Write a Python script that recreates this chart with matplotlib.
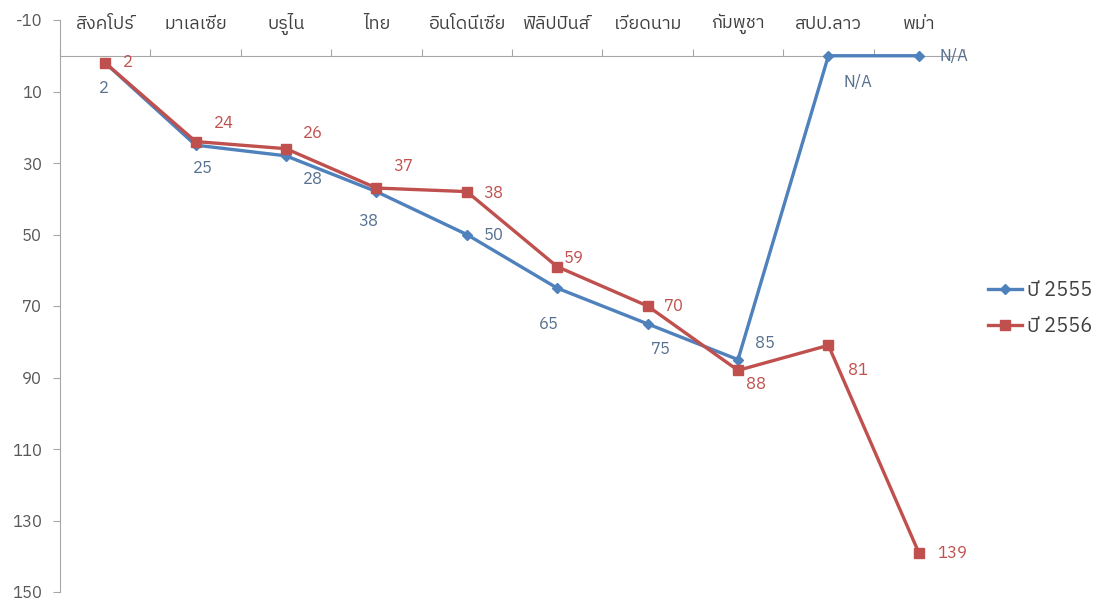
import matplotlib
matplotlib.use("Agg")
import matplotlib.pyplot as plt
from matplotlib import font_manager
from matplotlib.ft2font import FT2Font
import numpy as np

categories = ["สิงคโปร์", "มาเลเซีย", "บรูไน", "ไทย", "อินโดนีเซีย",
              "ฟิลิปปินส์", "เวียดนาม", "กัมพูชา", "สปป.ลาว", "พม่า"]
series_names = ["ปี 2555", "ปี 2556"]
values_2555 = [2, 25, 28, 38, 50, 65, 75, 85, 0, 0]
labels_2555 = ["2", "25", "28", "38", "50", "65", "75", "85", "N/A", "N/A"]
values_2556 = [2, 24, 26, 37, 38, 59, 70, 88, 81, 139]
labels_2556 = [str(v) for v in values_2556]
yticks = [-10, 10, 30, 50, 70, 90, 110, 130, 150]

# find a font with Thai glyphs
thai_family = None
for f in font_manager.fontManager.ttflist:
    try:
        ft = FT2Font(f.fname)
        cmap = ft.get_charmap()
        if ord("ส") in cmap and ord("ไ") in cmap:
            thai_family = f.name
            if "Sans" in f.name and "Looped" not in f.name:
                break
    except Exception:
        pass
fams = ([thai_family] if thai_family else []) + ["Lato", "DejaVu Sans"]
plt.rcParams["font.family"] = fams
plt.rcParams["axes.unicode_minus"] = False

blue = "#4F81BD"
red = "#C0504D"
blue_lbl = "#56708F"
red_lbl = "#C0504D"
gray = "#A6A6A6"

fig = plt.figure(figsize=(11.10, 6.03), dpi=100)
ax = fig.add_axes([60 / 1110, 11 / 603, 904 / 1110, 572 / 603])
x = np.arange(len(categories))

ax.plot(x, values_2555, color=blue, lw=2.4, marker="D", ms=5.5, label=series_names[0], zorder=3)
ax.plot(x, values_2556, color=red, lw=2.4, marker="s", ms=7.5, label=series_names[1], zorder=4)

ax.set_xlim(-0.5, len(categories) - 0.5)
ax.set_ylim(150, -10)
ax.set_yticks(yticks)
ax.tick_params(axis="y", colors="#595959", labelsize=12, length=5, color=gray, pad=8)

ax.spines["top"].set_visible(False)
ax.spines["right"].set_visible(False)
ax.spines["left"].set_color(gray)
ax.spines["bottom"].set_color(gray)
ax.spines["bottom"].set_position(("data", 0))
ax.set_xticks(np.arange(len(categories) + 1) - 0.5)
ax.set_xticklabels([])
ax.tick_params(axis="x", direction="in", length=5, color=gray)

trans = matplotlib.transforms.blended_transform_factory(ax.transData, ax.transAxes)
for i, c in enumerate(categories):
    ax.text(i, 0.993, c, transform=trans, ha="center", va="center", fontsize=13, color="#404040")

# data labels (offsets in points)
off_2555 = [(-1, -18), (5, -16.5), (19.5, -17), (-6, -21.5), (19, 0), (-6, -26), (9.5, -18), (19.5, 12), (21, -19), (25, 0)]
off_2556 = [(16.5, 1), (20, 13), (19.5, 11.5), (19, 16), (19, -1), (12, 6), (19, 0), (13, -10), (21, -18), (24, 0)]
for i in range(len(categories)):
    ax.annotate(labels_2555[i], (x[i], values_2555[i]), xytext=off_2555[i], textcoords="offset points",
                ha="center", va="center", fontsize=12, color=blue_lbl,
                annotation_clip=False, clip_on=False)
    ax.annotate(labels_2556[i], (x[i], values_2556[i]), xytext=off_2556[i], textcoords="offset points",
                ha="center", va="center", fontsize=12, color=red_lbl,
                annotation_clip=False, clip_on=False)

fig.legend(loc="center left", bbox_to_anchor=(988 / 1110, 1 - 308.5 / 603), frameon=False,
           fontsize=14.5, handlelength=1.7, handletextpad=0.25, labelspacing=0.85,
           borderpad=0, borderaxespad=0, labelcolor="#404040")

fig.savefig("out.png", dpi=100)
